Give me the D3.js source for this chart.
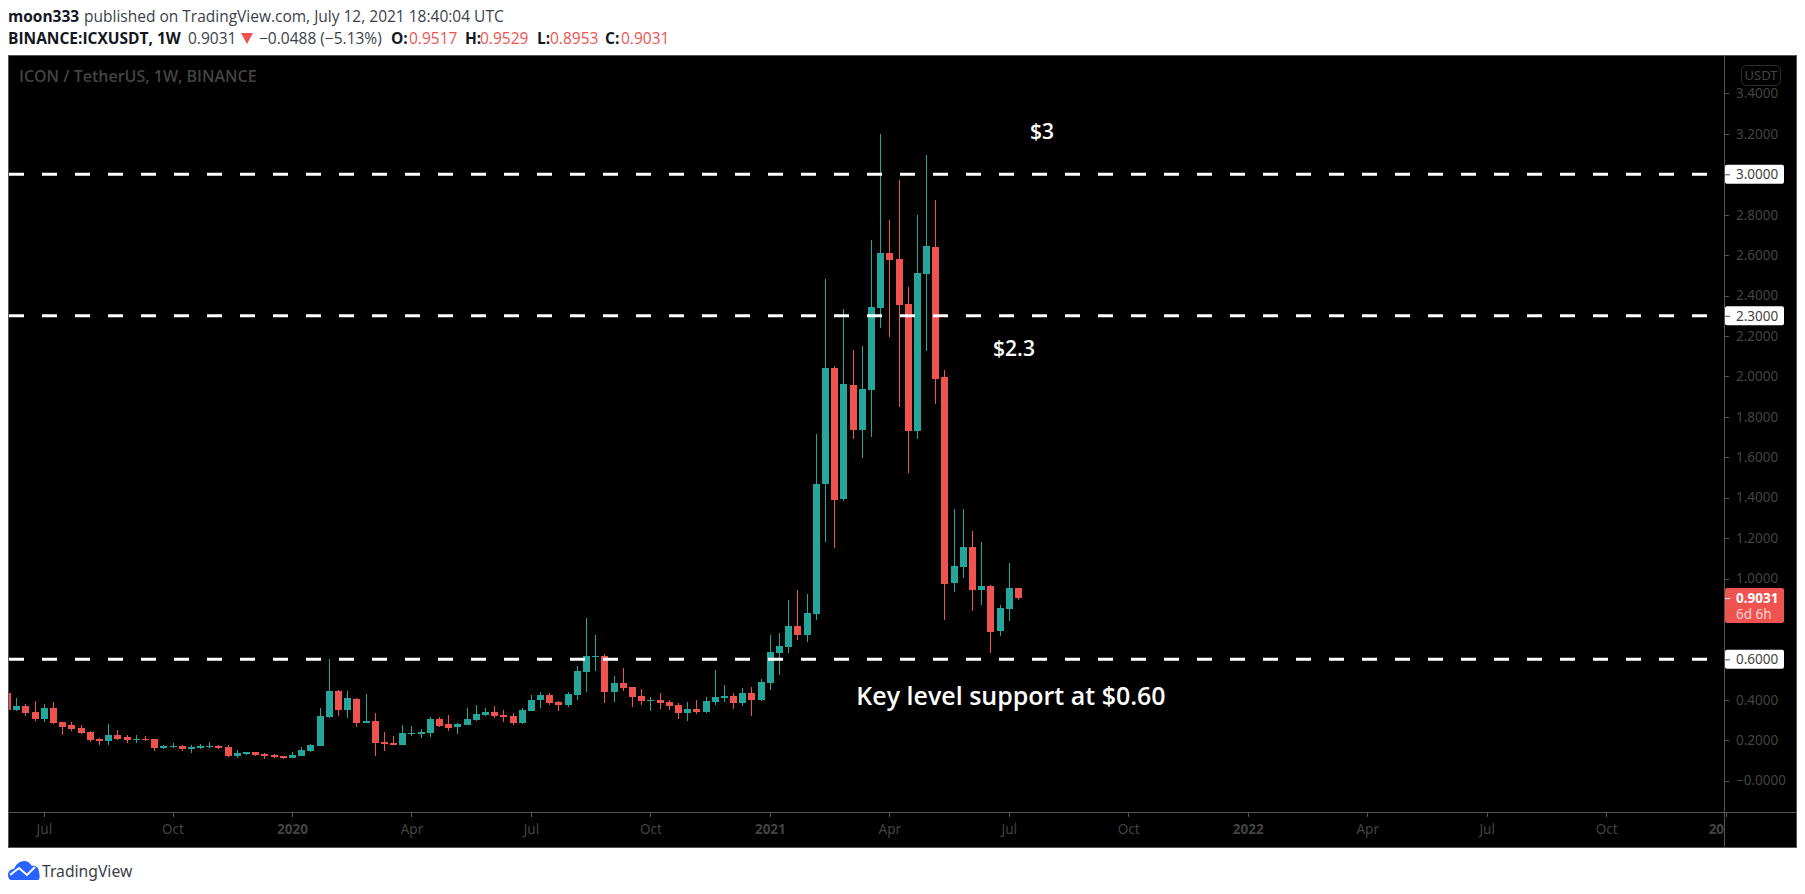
<!DOCTYPE html>
<html>
<head>
<meta charset="utf-8">
<script src="https://d3js.org/d3.v7.min.js"></script>
<style>
  html, body { margin: 0; padding: 0; background: #fff; overflow: hidden; }
  text { font-family: "Open Sans", "Noto Sans", sans-serif; }
  .axis path, .axis line { stroke: #555; shape-rendering: crispEdges; }
  .axis text { fill: #434343; font-size: 13.5px; font-family: "Noto Sans", sans-serif; }
</style>
</head>
<body>
<svg id="chart" width="1805" height="894"></svg>
<script>
// weekly candles (index 4 = 1 Jul 2019, index 110 = 12 Jul 2021)
const opens = [.433,.351,.369,.339,.305,.359,.290,.275,.260,.241,.206,.196,.226,.216,.203,.208,.206,.161,.166,.171,.156,.161,.166,.171,.166,.122,.133,.140,.130,.127,.120,.112,.122,.147,.171,.315,.443,.349,.404,.285,.295,.191,.186,.176,.229,.231,.236,.305,.280,.265,.275,.300,.325,.339,.325,.320,.285,.344,.399,.424,.389,.374,.424,.537,.612,.617,.438,.483,.463,.419,.394,.399,.389,.374,.335,.354,.339,.389,.409,.419,.384,.433,.399,.483,.631,.661,.765,.721,.825,1.468,2.042,1.394,1.958,1.735,1.933,2.339,2.611,2.581,2.358,1.730,2.507,2.640,1.997,.978,1.057,1.156,.943,.963,.740,.849,.9517];
const highs = [.440,.409,.379,.394,.379,.389,.290,.290,.275,.245,.209,.280,.250,.226,.226,.221,.206,.176,.186,.174,.174,.181,.191,.174,.176,.151,.142,.142,.135,.132,.123,.142,.166,.181,.359,.602,.448,.443,.407,.428,.335,.241,.221,.275,.270,.255,.315,.315,.325,.285,.359,.374,.359,.369,.349,.335,.359,.424,.438,.433,.394,.438,.567,.804,.720,.627,.518,.557,.463,.453,.414,.433,.399,.384,.389,.399,.414,.547,.473,.433,.458,.463,.503,.720,.730,.894,.943,.924,1.715,2.482,2.052,2.334,2.131,2.151,2.675,3.200,2.774,2.972,2.443,2.799,3.096,2.873,2.032,1.344,1.344,1.235,1.181,.968,.869,1.077,.9529];
const lows = [.345,.346,.320,.297,.290,.282,.226,.245,.232,.193,.176,.176,.203,.188,.188,.196,.147,.158,.163,.147,.137,.156,.163,.156,.118,.112,.128,.123,.107,.114,.107,.112,.122,.143,.171,.310,.320,.310,.265,.285,.122,.147,.176,.176,.221,.211,.216,.265,.245,.231,.275,.295,.320,.310,.290,.275,.280,.344,.359,.374,.344,.364,.399,.438,.542,.384,.389,.443,.364,.374,.344,.354,.349,.305,.295,.330,.335,.374,.389,.354,.369,.320,.394,.448,.522,.632,.696,.686,.795,1.181,1.151,1.384,1.690,1.596,1.700,2.240,2.195,1.849,1.522,1.690,2.126,1.864,.795,.933,1.003,.839,.869,.632,.716,.790,.8953];
const closes = [.351,.369,.336,.305,.359,.285,.265,.255,.236,.201,.196,.226,.206,.201,.208,.203,.161,.171,.171,.156,.166,.173,.171,.161,.122,.137,.140,.127,.122,.118,.112,.125,.151,.176,.320,.443,.349,.409,.285,.295,.186,.181,.176,.236,.234,.241,.305,.270,.260,.280,.305,.330,.339,.320,.315,.285,.349,.399,.424,.384,.374,.428,.542,.617,.617,.438,.483,.458,.414,.394,.399,.384,.369,.335,.354,.339,.394,.414,.419,.384,.433,.399,.488,.636,.666,.765,.721,.829,1.468,2.042,1.389,1.963,1.735,1.938,2.344,2.611,2.576,2.354,1.730,2.512,2.645,1.987,.973,1.062,1.156,.943,.963,.735,.854,.953,.9031];

const timeIndex = [4, 18, 31, 44, 57, 70, 83, 96, 109, 122, 135, 148, 161, 174, 187];
const timeLabels = ["Jul", "Oct", "2020", "Apr", "Jul", "Oct", "2021", "Apr", "Jul", "Oct", "2022", "Apr", "Jul", "Oct", "20"];
const priceTicks = [3.4, 3.2, 3.0, 2.8, 2.6, 2.4, 2.3, 2.2, 2.0, 1.8, 1.6, 1.4, 1.2, 1.0, 0.6, 0.4, 0.2, 0];
const levels = [3.0, 2.3, 0.6];
const lastPrice = 0.9031;
const notes = [
  { text: "$3", x: 1042, y: 139, size: 21 },
  { text: "$2.3", x: 1014, y: 356, size: 21 },
  { text: "Key level support at $0.60", x: 1011, y: 705, size: 25 }
];

const up = "#26a69a", down = "#ef5350";
const plot = { left: 8, right: 1724, top: 55, axis: 812, bottom: 847, edge: 1796 };

const x = d3.scaleLinear().domain([0, 187]).range([7.1, 1725.6]);
const y = d3.scaleLinear().domain([0, 3]).range([780.6, 174.3]);

const svg = d3.select("#chart");

// header lines
const head = svg.append("g").style("font-family", '"Noto Sans", sans-serif').style("font-size", "15.5px").attr("fill", "#131722");
head.append("text").attr("x", 8).attr("y", 22).attr("font-weight", 700).text("moon333");
head.append("text").attr("x", 84).attr("y", 22).attr("fill", "#3a3f4b").text("published on TradingView.com, July 12, 2021 18:40:04 UTC");
const quote = [
  ["BINANCE:ICXUSDT, 1W", 8, 700, "#131722"], ["0.9031", 188, 400, "#3a3f4b"],
  ["−0.0488 (−5.13%)", 259, 400, "#3a3f4b"],
  ["O:", 391, 700, "#131722"], ["0.9517", 409, 400, down],
  ["H:", 465, 700, "#131722"], ["0.9529", 480, 400, down],
  ["L:", 537, 700, "#131722"], ["0.8953", 550, 400, down],
  ["C:", 605, 700, "#131722"], ["0.9031", 621, 400, down]
];
head.selectAll("text.q").data(quote).join("text")
  .attr("class", "q")
  .attr("x", d => d[1]).attr("y", 44)
  .attr("font-weight", d => d[2]).attr("fill", d => d[3])
  .text(d => d[0]);
svg.append("path").attr("d", "M241,33H253L247,44Z").attr("fill", down);

// chart frame
svg.append("rect").attr("x", plot.left + .5).attr("y", plot.top + .5)
  .attr("width", plot.edge - plot.left).attr("height", plot.bottom - plot.top)
  .attr("fill", "#000").attr("stroke", "#555");

svg.append("clipPath").attr("id", "plot-clip").append("rect")
  .attr("x", plot.left + 1).attr("y", plot.top + 1)
  .attr("width", plot.right - plot.left - 1).attr("height", plot.axis - plot.top - 1);

svg.append("text").attr("x", 19).attr("y", 82)
  .attr("fill", "#434343").attr("font-weight", 600).style("font-size", "16px")
  .text("ICON / TetherUS, 1W, BINANCE");

// candles
const candles = svg.append("g").attr("clip-path", "url(#plot-clip)").attr("shape-rendering", "crispEdges");
const color = i => closes[i] >= opens[i] ? up : down;
const rows = d3.range(opens.length);
candles.selectAll("rect.wick").data(rows).join("rect")
  .attr("class", "wick")
  .attr("x", i => Math.round(x(i)))
  .attr("y", i => y(highs[i]))
  .attr("width", 1)
  .attr("height", i => y(lows[i]) - y(highs[i]))
  .attr("fill", color);
candles.selectAll("rect.body").data(rows).join("rect")
  .attr("class", "body")
  .attr("x", i => Math.round(x(i)) - 3)
  .attr("y", i => y(Math.max(opens[i], closes[i])))
  .attr("width", 7)
  .attr("height", i => Math.max(1, Math.abs(y(opens[i]) - y(closes[i]))))
  .attr("fill", color);

// horizontal levels
svg.append("g").attr("clip-path", "url(#plot-clip)").selectAll("line").data(levels).join("line")
  .attr("x1", plot.left + 1).attr("x2", plot.right)
  .attr("y1", d => y(d)).attr("y2", d => y(d))
  .attr("stroke", "#fff").attr("stroke-width", 3).attr("stroke-dasharray", "15 18");

// notes
svg.selectAll("text.note").data(notes).join("text")
  .attr("class", "note")
  .attr("x", d => d.x).attr("y", d => d.y)
  .attr("text-anchor", "middle").attr("fill", "#fff").attr("font-weight", 600)
  .style("font-size", d => d.size + "px")
  .text(d => d.text);

// time axis
const timeAxis = svg.append("g").attr("class", "axis").attr("transform", `translate(0,${plot.axis})`)
  .call(d3.axisBottom(x).tickValues(timeIndex).tickSize(5).tickSizeOuter(0).tickFormat((d, i) => timeLabels[i]));
timeAxis.select(".domain").attr("d", `M${plot.left},0.5H${plot.edge}`);
timeAxis.selectAll(".tick text").attr("y", 12)
  .attr("font-weight", (d, i) => /^20/.test(timeLabels[i]) ? 700 : 400)
  .attr("text-anchor", (d, i) => timeLabels[i] === "20" ? "end" : "middle")
  .attr("dx", (d, i) => timeLabels[i] === "20" ? -2 : 0);

// price axis
const priceAxis = svg.append("g").attr("class", "axis").attr("transform", `translate(${plot.right},0)`)
  .call(d3.axisRight(y).tickValues(priceTicks).tickSize(5).tickSizeOuter(0)
    .tickFormat(d => d === 0 ? "−0.0000" : d3.format(".4f")(d)));
priceAxis.select(".domain").attr("d", `M0.5,${plot.top}V${plot.bottom}`);
priceAxis.selectAll(".tick text").attr("x", 12);

// price labels on top of the axis
const tags = svg.append("g");
levels.forEach(v => {
  tags.append("rect").attr("x", plot.right + 1).attr("y", y(v) - 9.5).attr("width", 59).attr("height", 19)
    .attr("rx", 2).attr("fill", "#fff");
  tags.append("rect").attr("x", plot.right + 1).attr("y", y(v)).attr("width", 5).attr("height", 1).attr("fill", "#555");
  tags.append("text").attr("x", plot.right + 12).attr("y", y(v) + 5)
    .attr("fill", "#434343").style("font-family", '"Noto Sans", sans-serif').style("font-size", "13.5px")
    .text(d3.format(".4f")(v));
});
tags.append("rect").attr("x", plot.right + 1).attr("y", 588).attr("width", 59).attr("height", 35)
  .attr("rx", 2).attr("fill", down);
tags.append("rect").attr("x", plot.right + 1).attr("y", y(lastPrice)).attr("width", 5).attr("height", 1).attr("fill", "#fff");
tags.append("text").attr("x", plot.right + 12).attr("y", 603)
  .attr("fill", "#fff").attr("font-weight", 700).style("font-family", '"Noto Sans", sans-serif').style("font-size", "13.5px")
  .text(d3.format(".4f")(lastPrice));
tags.append("text").attr("x", plot.right + 12).attr("y", 619)
  .attr("fill", "#ffd2d0").style("font-family", '"Noto Sans", sans-serif').style("font-size", "13.5px")
  .text("6d 6h");

// currency box
svg.append("rect").attr("x", 1741.5).attr("y", 65.5).attr("width", 39).attr("height", 20).attr("rx", 5)
  .attr("fill", "none").attr("stroke", "#2e2e2e");
svg.append("text").attr("x", 1761).attr("y", 80).attr("text-anchor", "middle")
  .attr("fill", "#434343").style("font-family", '"Noto Sans", sans-serif').style("font-size", "13px").text("USDT");

// logo
const logo = svg.append("g").attr("transform", "translate(8,861)");
logo.append("path").attr("fill", "#2962ff")
  .attr("d", "M0,14C0,10 3,8 6,8C8,3 12,0 16,0C20,0 22,2 24,5C28,4 31,7 31,11C32,14 32,19 30,19H3C1,19 0,16 0,14Z");
logo.append("path").attr("fill", "none").attr("stroke", "#fff").attr("stroke-width", 2)
  .attr("d", "M2,14L11,7L19,14L27,6");
svg.append("text").attr("x", 42).attr("y", 877).attr("fill", "#3a3f4b")
  .style("font-family", '"Noto Sans", sans-serif').style("font-size", "15.7px").text("TradingView");
</script>
</body>
</html>
